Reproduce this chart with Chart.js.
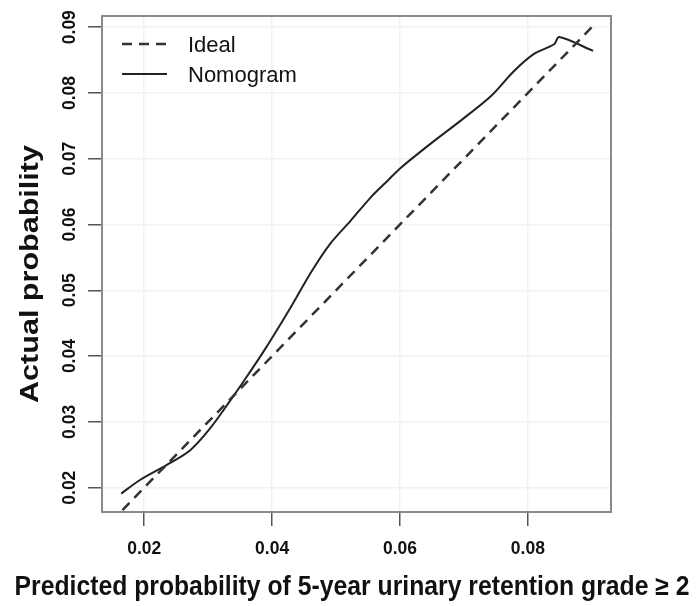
<!DOCTYPE html>
<html>
<head>
<meta charset="utf-8">
<script src="https://cdn.jsdelivr.net/npm/chart.js@4.4.1/dist/chart.umd.min.js"></script>
<style>
  html, body { margin: 0; padding: 0; background: #fff; }
  #wrap { width: 698px; height: 606px; }
</style>
</head>
<body>
<div id="wrap"><canvas id="chart" width="698" height="606"></canvas></div>
<script>
// calibration curve
const nomoX = [0.0164, 0.0194, 0.0236, 0.0272, 0.0303, 0.0335, 0.0355, 0.0386, 0.0429, 0.0460, 0.0491,
               0.0523, 0.0554, 0.0581, 0.0601, 0.0648, 0.0695, 0.0742, 0.0778, 0.0809, 0.0841, 0.0849, 0.0902];
const nomoY = [0.0191, 0.0212, 0.0235, 0.0257, 0.0290, 0.0333, 0.0361, 0.0406, 0.0474, 0.0526, 0.0571,
               0.0606, 0.0641, 0.0667, 0.0686, 0.0723, 0.0758, 0.0795, 0.0833, 0.0859, 0.0874, 0.0885, 0.0864];
const idealX = [0.0166, 0.0906];
const idealY = [0.0166, 0.0906];
const xTicks = [0.02, 0.04, 0.06, 0.08];
const yTicks = [0.02, 0.03, 0.04, 0.05, 0.06, 0.07, 0.08, 0.09];
const xTitle = "Predicted probability of 5-year urinary retention grade \u2265 2";
const yTitle = "Actual probability";

const toPts = (xs, ys) => xs.map((x, i) => ({x: x, y: ys[i]}));

// text squeezed/stretched to a given width (the original uses a narrow font)
function fitText(ctx, txt, cx, cy, w, font, rot) {
  ctx.save();
  ctx.font = font;
  ctx.translate(cx, cy);
  ctx.rotate(rot || 0);
  const m = ctx.measureText(txt).width;
  ctx.scale(w / m, 1);
  ctx.textAlign = 'center';
  ctx.textBaseline = 'middle';
  ctx.fillText(txt, 0, 0);
  ctx.restore();
}

const decor = {
  id: 'decor',
  afterDraw(chart) {
    const ctx = chart.ctx;
    const a = chart.chartArea;
    const sx = chart.scales.x, sy = chart.scales.y;
    // frame
    ctx.save();
    ctx.strokeStyle = '#8a8a8a';
    ctx.lineWidth = 2;
    ctx.strokeRect(a.left, a.top, a.right - a.left, a.bottom - a.top);
    ctx.restore();

    ctx.fillStyle = '#111';
    // tick labels
    xTicks.forEach(v => {
      fitText(ctx, v.toFixed(2), sx.getPixelForValue(v), 549, 34, '600 18px "Liberation Sans", Arial, sans-serif');
    });
    yTicks.forEach(v => {
      fitText(ctx, v.toFixed(2), 70, sy.getPixelForValue(v), 34, '600 18px "Liberation Sans", Arial, sans-serif', -Math.PI / 2);
    });
    // axis titles
    fitText(ctx, xTitle, 352, 588, 675, 'bold 27px "Liberation Sans", Arial, sans-serif');
    fitText(ctx, yTitle, 31, 274, 258, 'bold 26px "Liberation Sans", Arial, sans-serif', -Math.PI / 2);

    // legend
    const rows = [44, 74];
    chart.data.datasets.forEach((ds, i) => {
      ctx.save();
      ctx.strokeStyle = ds.borderColor;
      ctx.lineWidth = ds.borderWidth;
      ctx.setLineDash(ds.borderDash || []);
      ctx.beginPath();
      ctx.moveTo(122, rows[i]);
      ctx.lineTo(167, rows[i]);
      ctx.stroke();
      ctx.restore();
      ctx.save();
      ctx.font = '22px "Liberation Sans", Arial, sans-serif';
      ctx.fillStyle = '#111';
      ctx.textBaseline = 'middle';
      ctx.fillText(ds.label, 188, rows[i] + 2);
      ctx.restore();
    });
  }
};

const ctx = document.getElementById('chart').getContext('2d');
const chart = new Chart(ctx, {
  type: 'scatter',
  data: {
    datasets: [{
      label: 'Ideal',
      data: toPts(idealX, idealY),
      showLine: true,
      borderColor: '#333',
      borderWidth: 2.5,
      borderDash: [10, 7],
      pointRadius: 0
    }, {
      label: 'Nomogram',
      data: toPts(nomoX, nomoY),
      showLine: true,
      borderColor: '#222',
      borderWidth: 2,
      tension: 0.3,
      pointRadius: 0
    }]
  },
  options: {
    responsive: false,
    animation: false,
    devicePixelRatio: 1,
    layout: { padding: { top: 16, right: 87, left: 0, bottom: 0 } },
    plugins: { legend: { display: false }, tooltip: { enabled: false } },
    scales: {
      x: {
        type: 'linear',
        min: 0.0134,
        max: 0.093,
        afterBuildTicks: s => { s.ticks = xTicks.map(v => ({value: v})); },
        afterFit: s => { s.height = 94; },
        ticks: { display: false },
        grid: { color: '#f1f1f1', tickColor: '#555', tickLength: 14, lineWidth: 1.5 },
        border: { display: false }
      },
      y: {
        type: 'linear',
        min: 0.0163,
        max: 0.0917,
        afterBuildTicks: s => { s.ticks = yTicks.map(v => ({value: v})); },
        afterFit: s => { s.width = 102; },
        ticks: { display: false },
        grid: { color: '#f1f1f1', tickColor: '#555', tickLength: 14, lineWidth: 1.5 },
        border: { display: false }
      }
    }
  },
  plugins: [decor]
});
</script>
</body>
</html>
